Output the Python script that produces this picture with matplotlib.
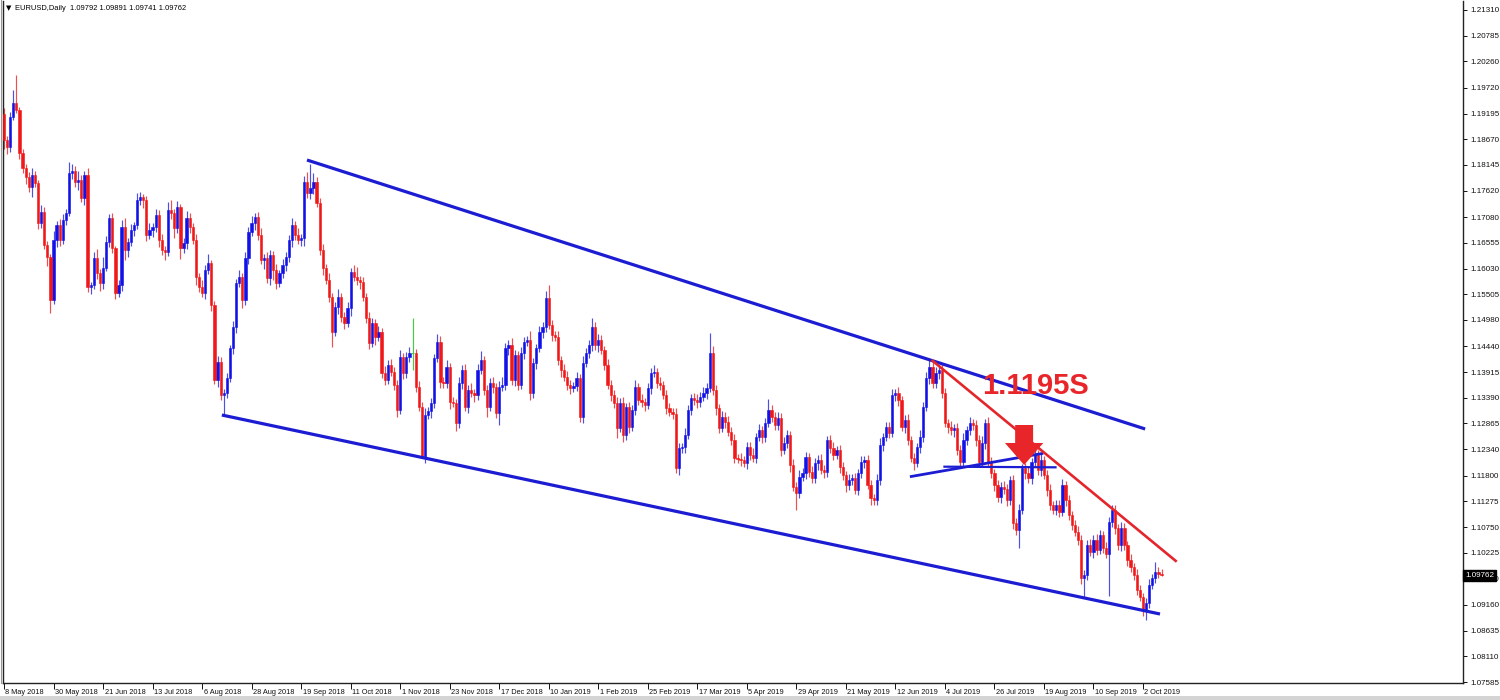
import matplotlib
matplotlib.use('Agg')
import matplotlib.pyplot as plt
import matplotlib.transforms as mtransforms
from matplotlib.patches import Polygon, Rectangle
import numpy as np

# ---------------- data ----------------
header_text = "EURUSD,Daily  1.09792 1.09891 1.09741 1.09762"
first_open_pips = 11918

close_pips = [
    # 0
    11865, 11851, 11912, 11941, 11926, 11838, 11808, 11789, 11769, 11794,
    11777, 11695, 11718, 11651, 11626, 11538, 11661, 11691, 11661, 11702,
    11716, 11798, 11802, 11779, 11783, 11747, 11794, 11565, 11569, 11624,
    11593, 11573, 11604, 11657, 11706, 11644, 11553, 11569, 11687, 11640,
    11657, 11681, 11691, 11742, 11749, 11742, 11671, 11681, 11687, 11712,
    # 50
    11661, 11640, 11637, 11722, 11716, 11685, 11728, 11644, 11655, 11706,
    11687, 11661, 11585, 11565, 11553, 11600, 11614, 11528, 11375, 11412,
    11344, 11348, 11379, 11440, 11483, 11573, 11585, 11538, 11624, 11677,
    11695, 11708, 11671, 11620, 11624, 11583, 11630, 11600, 11573, 11593,
    11610, 11626, 11661, 11691, 11671, 11661, 11665, 11780, 11757, 11767,
    # 100
    11780, 11737, 11641, 11604, 11580, 11545, 11473, 11524, 11545, 11504,
    11492, 11522, 11596, 11586, 11580, 11575, 11545, 11502, 11451, 11492,
    11463, 11473, 11390, 11375, 11406, 11392, 11365, 11314, 11422, 11390,
    11422, 11430, 11430, 11361, 11320, 11218, 11304, 11312, 11328, 11420,
    11453, 11371, 11369, 11402, 11330, 11328, 11287, 11369, 11396, 11320,
    # 150
    11355, 11349, 11345, 11396, 11416, 11355, 11320, 11369, 11361, 11308,
    11361, 11365, 11441, 11447, 11375, 11426, 11365, 11430, 11453, 11457,
    11349, 11410, 11441, 11473, 11484, 11543, 11488, 11467, 11463, 11416,
    11396, 11381, 11365, 11359, 11363, 11379, 11300, 11410, 11430, 11447,
    11484, 11447, 11457, 11437, 11406, 11365, 11345, 11328, 11277, 11328,
    # 200
    11263, 11320, 11279, 11314, 11361, 11334, 11330, 11324, 11359, 11390,
    11392, 11369, 11365, 11345, 11318, 11310, 11306, 11196, 11236, 11238,
    11263, 11314, 11339, 11334, 11330, 11341, 11349, 11359, 11430, 11355,
    11318, 11277, 11300, 11290, 11269, 11253, 11216, 11214, 11212, 11206,
    11238, 11222, 11216, 11259, 11273, 11259, 11287, 11314, 11300, 11283,
    # 250
    11298, 11232, 11247, 11263, 11202, 11157, 11145, 11177, 11185, 11218,
    11187, 11175, 11206, 11212, 11191, 11187, 11253, 11236, 11222, 11232,
    11198, 11181, 11161, 11171, 11175, 11151, 11185, 11208, 11212, 11161,
    11134, 11130, 11171, 11243, 11259, 11279, 11267, 11345, 11349, 11334,
    11279, 11294, 11253, 11216, 11206, 11238, 11259, 11320, 11379, 11402,
    # 300
    11369, 11390, 11396, 11349, 11287, 11279, 11273, 11277, 11232, 11208,
    11253, 11273, 11287, 11283, 11253, 11208, 11247, 11287, 11208, 11185,
    11161, 11136, 11157, 11152, 11130, 11171, 11083, 11069, 11110, 11196,
    11185, 11175, 11208, 11222, 11191, 11212, 11181, 11151, 11120, 11110,
    11120, 11106, 11161, 11130, 11100, 11079, 11065, 11049, 10971, 10977,
    # 350
    11038, 11024, 11049, 11028, 11059, 11032, 11020, 11085, 11110, 11073,
    11038, 11073, 11038, 11008, 10993, 10977, 10946, 10932, 10906, 10920,
    10957, 10971, 10983, 10979, 10976.2,
]

upper_wick_pips = [
    12, 8, 10, 26, 57, 6, 10, 8, 12, 14, 9, 7, 15, 11, 8, 6, 18, 10, 14, 12, 9, 22, 15, 11, 20,
    10, 8, 14, 7, 12, 18, 9, 22, 13, 8, 10, 6, 11, 15, 20, 9, 12, 8, 16, 11, 7, 10, 14, 9, 12,
    10, 12, 8, 16, 20, 9, 13, 7, 11, 15, 10, 8, 12, 9, 14, 10, 18, 6, 9, 12, 10, 8, 11, 7, 13,
    9, 14, 8, 12, 10, 16, 9, 11, 15, 8, 12, 10, 9, 13, 7, 12, 10, 11, 16, 9, 14, 8, 12, 20, 50,
    18, 9, 10, 12, 8, 14, 9, 11, 16, 8, 10, 12, 9, 15, 20, 8, 11, 9, 13, 10, 7, 12, 9, 14, 10,
    12, 9, 11, 14, 8, 10, 13, 72, 9, 12, 10, 14, 8, 11, 9, 16, 12, 10, 14, 8, 11, 9, 13, 10, 12,
    10, 14, 8, 12, 18, 9, 11, 10, 13, 8, 12, 16, 9, 10, 14, 11, 8, 12, 10, 9, 18, 11, 8, 12, 10,
    14, 26, 10, 8, 12, 9, 11, 13, 10, 8, 12, 9, 14, 10, 11, 18, 9, 12, 10, 8, 13, 11, 9, 12, 10,
    12, 9, 11, 10, 14, 8, 12, 9, 11, 10, 13, 8, 12, 9, 10, 11, 8, 12, 10, 9, 14, 11, 8, 10, 12,
    9, 12, 10, 41, 14, 10, 8, 12, 9, 11, 10, 13, 8, 12, 9, 11, 10, 14, 8, 12, 9, 10, 22, 11, 9,
    12, 9, 11, 10, 8, 12, 9, 14, 10, 11, 8, 12, 9, 10, 13, 11, 8, 10, 12, 9, 11, 10, 8, 12, 9,
    10, 8, 12, 9, 11, 10, 8, 12, 14, 9, 11, 10, 12, 8, 13, 9, 10, 12, 8, 11, 9, 14, 10, 12, 14,
    10, 12, 9, 11, 10, 8, 12, 9, 11, 10, 14, 8, 12, 9, 11, 10, 13, 9, 12, 10, 8, 11, 9, 12, 10,
    9, 11, 10, 12, 8, 10, 12, 9, 11, 10, 13, 8, 10, 12, 9, 11, 10, 12, 9, 11, 8, 10, 12, 9, 11,
    10, 12, 9, 11, 10, 8, 12, 10, 10, 11, 9, 12, 10, 8, 11, 9, 12, 10, 8, 11, 12, 9, 21, 10, 10,
]

lower_wick_pips = [
    18, 14, 9, 6, 5, 12, 9, 14, 10, 20, 8, 12, 10, 9, 18, 26, 7, 14, 12, 8, 10, 6, 12, 9, 16,
    9, 15, 10, 14, 8, 11, 16, 12, 7, 10, 9, 13, 8, 12, 20, 14, 9, 11, 7, 10, 15, 12, 8, 13, 9,
    14, 9, 16, 8, 12, 20, 10, 22, 9, 13, 11, 8, 15, 10, 9, 12, 8, 11, 7, 14, 9, 41, 10, 8, 12,
    11, 8, 15, 9, 12, 7, 14, 10, 8, 18, 9, 13, 20, 11, 8, 10, 12, 9, 14, 10, 8, 12, 15, 9, 11,
    12, 8, 10, 14, 9, 11, 30, 8, 13, 10, 12, 9, 15, 8, 11, 14, 9, 10, 12, 8, 16, 9, 11, 10, 8,
    9, 11, 14, 8, 12, 10, 9, 34, 11, 8, 3, 12, 9, 14, 10, 8, 12, 9, 11, 13, 8, 15, 10, 12, 9,
    12, 9, 14, 10, 8, 11, 20, 9, 13, 10, 24, 8, 11, 14, 9, 12, 10, 8, 11, 9, 14, 10, 12, 8, 11,
    10, 8, 12, 9, 11, 14, 8, 10, 12, 9, 11, 10, 13, 8, 9, 12, 10, 14, 8, 11, 9, 12, 10, 20, 8,
    14, 10, 12, 8, 11, 9, 10, 13, 8, 12, 9, 11, 10, 8, 12, 9, 10, 11, 14, 9, 12, 8, 10, 9, 11,
    10, 8, 12, 9, 11, 14, 10, 8, 12, 9, 11, 10, 8, 13, 9, 12, 10, 8, 11, 9, 12, 10, 8, 11, 9,
    10, 12, 8, 11, 14, 9, 35, 10, 8, 12, 9, 11, 10, 14, 8, 12, 9, 10, 11, 8, 12, 9, 14, 10, 11,
    9, 11, 10, 12, 8, 14, 10, 9, 11, 12, 8, 10, 9, 13, 11, 8, 12, 10, 9, 14, 8, 11, 10, 9, 12,
    11, 9, 12, 10, 8, 11, 9, 14, 10, 12, 8, 11, 9, 10, 12, 9, 11, 13, 8, 10, 12, 9, 11, 10, 12,
    10, 12, 11, 37, 9, 11, 10, 12, 9, 10, 11, 8, 12, 10, 9, 11, 10, 8, 12, 10, 11, 9, 10, 12, 39,
    11, 9, 12, 10, 8, 11, 9, 85, 10, 12, 9, 11, 10, 12, 9, 11, 10, 8, 12, 21, 10, 9, 11, 8, 2,
]

date_labels = ["8 May 2018", "30 May 2018", "21 Jun 2018", "13 Jul 2018", "6 Aug 2018",
               "28 Aug 2018", "19 Sep 2018", "11 Oct 2018", "1 Nov 2018", "23 Nov 2018",
               "17 Dec 2018", "10 Jan 2019", "1 Feb 2019", "25 Feb 2019", "17 Mar 2019",
               "5 Apr 2019", "29 Apr 2019", "21 May 2019", "12 Jun 2019", "4 Jul 2019",
               "26 Jul 2019", "19 Aug 2019", "10 Sep 2019", "2 Oct 2019"]
bars_per_label = 16

price_ticks = [1.21310, 1.20785, 1.20260, 1.19720, 1.19195, 1.18670, 1.18145, 1.17620,
               1.17080, 1.16555, 1.16030, 1.15505, 1.14980, 1.14440, 1.13915, 1.13390,
               1.12865, 1.12340, 1.11800, 1.11275, 1.10750, 1.10225, 1.09700, 1.09160,
               1.08635, 1.08110, 1.07585]
current_price = 1.09762

# drawn trend lines: (bar index, price) pairs
upper_channel = [(97.9, 1.18246), (368.7, 1.12753)]
lower_channel = [(70.4, 1.13038), (373.5, 1.08974)]
red_trend = [(299.7, 1.14162), (378.9, 1.10042)]
rising_line = [(292.7, 1.11778), (335.8, 1.12256)]
flat_line = [(303.5, 1.11983), (340.1, 1.11970)]
arrow_bar, arrow_tip, arrow_head_base, arrow_top = 329.6, 1.12017, 1.12467, 1.12834
label_text, label_bar, label_price = "1.1195S", 333.4, 1.13631

# ---------------- derived ----------------
closes = np.array(close_pips, dtype=float) / 10000.0
opens = np.concatenate([[first_open_pips / 10000.0], closes[:-1]])
highs = np.maximum(opens, closes) + np.array(upper_wick_pips) / 10000.0
lows = np.minimum(opens, closes) - np.array(lower_wick_pips) / 10000.0
x = np.arange(len(closes))

BLUE = '#1212e8'
RED = '#f01818'
BLUE_W = '#5050e0'
RED_W = '#ea5050'
GREEN = '#44cc44'

plt.rcParams['font.family'] = ['Liberation Sans', 'DejaVu Sans']

fig = plt.figure(figsize=(15, 7), dpi=100)
fig.patch.set_facecolor('white')
ax = fig.add_axes([3 / 1500, 17 / 700, 1460 / 1500, 682 / 700])
ax.set_facecolor('white')

up = closes > opens
dn = closes < opens
eq = closes == opens

wick_colors = np.where(up, BLUE_W, np.where(dn, RED_W, GREEN))
ax.vlines(x, lows, highs, colors=list(wick_colors), linewidth=0.85, zorder=2)

body_w = 0.72
for mask, col in ((up, BLUE), (dn, RED)):
    b = np.minimum(opens, closes)[mask]
    h = np.abs(closes - opens)[mask]
    ax.bar(x[mask], h, bottom=b, width=body_w, color=col, edgecolor=col,
           linewidth=0.4, zorder=3)
ax.hlines(closes[eq], x[eq] - body_w / 2, x[eq] + body_w / 2, colors=GREEN,
          linewidth=0.8, zorder=3)

# trend lines
for pts, col, lw in ((upper_channel, '#1c1cd2', 2.3), (lower_channel, '#1c1cd2', 2.3),
                     (rising_line, '#1c1cd2', 2.0), (flat_line, '#1c1cd2', 1.6),
                     (red_trend, '#e4262c', 1.9)):
    xs, ys = zip(*pts)
    ax.plot(xs, ys, color=col, linewidth=lw, solid_capstyle='butt', zorder=4)

# arrow
shaft_hw, head_hw = 2.9, 6.2
arrow_pts = [(arrow_bar - shaft_hw, arrow_top), (arrow_bar + shaft_hw, arrow_top),
             (arrow_bar + shaft_hw, arrow_head_base), (arrow_bar + head_hw, arrow_head_base),
             (arrow_bar, arrow_tip), (arrow_bar - head_hw, arrow_head_base),
             (arrow_bar - shaft_hw, arrow_head_base)]
ax.add_patch(Polygon(arrow_pts, closed=True, facecolor='#e8262a', edgecolor='none', zorder=5))

ax.text(label_bar, label_price, label_text, ha='center', va='center', fontsize=21,
        fontweight='bold', color='#e8262a', zorder=6)

# axes limits
ax.set_xlim(-0.32, 471.4)
ax.set_ylim(1.075649, 1.214938)

# x ticks
tick_bars = [i * bars_per_label for i in range(len(date_labels))]
ax.set_xticks(tick_bars)
ax.set_xticklabels(date_labels, ha='left')
ax.tick_params(axis='x', direction='out', length=4, width=0.7, pad=0.5,
               labelsize=5.3, colors='#111111')
offset = mtransforms.ScaledTranslation(1.5 / 100, 0, fig.dpi_scale_trans)
for lbl in ax.get_xticklabels():
    lbl.set_transform(lbl.get_transform() + offset)

# y ticks on right
ax.yaxis.tick_right()
ax.set_yticks(price_ticks)
ax.set_yticklabels([f"{v:.5f}" for v in price_ticks])
ax.tick_params(axis='y', direction='out', length=3, width=0.7, pad=2,
               labelsize=5.8, colors='#111111')

for side in ('left', 'bottom', 'right'):
    ax.spines[side].set_color('#222222')
    ax.spines[side].set_linewidth(1.0)
ax.spines['top'].set_visible(False)

# current price box
ax.text(1.0015, current_price, f"{current_price:.5f}", transform=ax.get_yaxis_transform(),
        ha='left', va='center', fontsize=5.8, color='white', zorder=10, clip_on=False,
        bbox=dict(boxstyle='square,pad=0.25', facecolor='black', edgecolor='black'))

# header
fig.text(6 / 1500, 1 - 8 / 700, "\u25bc", fontsize=5, va='center', ha='left',
         family='DejaVu Sans')
fig.text(15 / 1500, 1 - 8 / 700, header_text, fontsize=5.4, va='center', ha='left')

# window frame lines
fig.add_artist(Rectangle((0, 0), 1, 4 / 700, transform=fig.transFigure,
                         facecolor='#d4d4d4', edgecolor='none'))
fig.add_artist(plt.Line2D([0.5 / 1500, 0.5 / 1500], [17 / 700, 1], transform=fig.transFigure,
                          color='#999999', linewidth=0.8))

fig.savefig('out.png', dpi=100, facecolor='white')
